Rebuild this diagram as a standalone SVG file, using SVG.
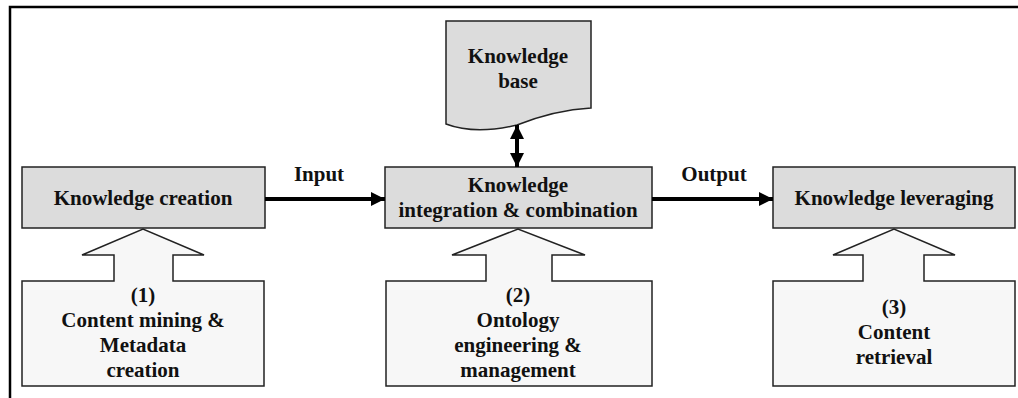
<svg xmlns="http://www.w3.org/2000/svg" width="1018" height="398" viewBox="0 0 1018 398">
<style>
  .t{fill:#111;text-anchor:middle}
  .main{fill:#dcdcdc;stroke:#222;stroke-width:1.5}
  .sub{fill:#f7f7f7;stroke:#222;stroke-width:1.5}
  .conn{stroke:#000;stroke-width:4;fill:none}
  .frame{stroke:#000;stroke-width:2.5;fill:none}
</style>
<defs>
  <marker id="ah" markerUnits="userSpaceOnUse" markerWidth="14" markerHeight="14" viewBox="0 0 14 14" refX="14" refY="7" orient="auto-start-reverse">
    <path d="M0,0 L14,7 L0,14 Z" fill="#000"/>
  </marker>
</defs>
<path class="frame" d="M10,398 V7 H1018"/>
<g id="kb">
  <path class="main" d="M446,21 H591 V108 Q555,110 517,125 Q475,135 446,124 Z"/>
  <text class="t" font-family="Liberation Serif" font-weight="bold" font-size="21" x="518" y="63">Knowledge</text>
  <text class="t" font-family="Liberation Serif" font-weight="bold" font-size="21" x="518" y="88">base</text>
</g>
<g id="creation">
  <rect class="main" x="22" y="167" width="243" height="61"/>
  <text class="t" font-family="Liberation Serif" font-weight="bold" font-size="21" x="143" y="205">Knowledge creation</text>
</g>
<g id="integration">
  <rect class="main" x="385" y="167" width="267" height="61"/>
  <text class="t" font-family="Liberation Serif" font-weight="bold" font-size="21" x="518" y="192">Knowledge</text>
  <text class="t" font-family="Liberation Serif" font-weight="bold" font-size="21" x="518" y="217">integration &amp; combination</text>
</g>
<g id="leveraging">
  <rect class="main" x="773" y="167" width="242" height="61"/>
  <text class="t" font-family="Liberation Serif" font-weight="bold" font-size="21" x="894" y="205">Knowledge leveraging</text>
</g>
<g id="mining">
  <path class="sub" d="M22,281 H114 V255 H82 L143,229 L204,255 H173 V281 H264 V386 H22 Z"/>
  <text class="t" font-family="Liberation Serif" font-weight="bold" font-size="21" x="143" y="302">(1)</text>
  <text class="t" font-family="Liberation Serif" font-weight="bold" font-size="21" x="143" y="327">Content mining &amp;</text>
  <text class="t" font-family="Liberation Serif" font-weight="bold" font-size="21" x="143" y="352">Metadata</text>
  <text class="t" font-family="Liberation Serif" font-weight="bold" font-size="21" x="143" y="377">creation</text>
</g>
<g id="ontology">
  <path class="sub" d="M386,281 H486 V255 H452 L518,229 L585,255 H552 V281 H652 V386 H386 Z"/>
  <text class="t" font-family="Liberation Serif" font-weight="bold" font-size="21" x="518" y="302">(2)</text>
  <text class="t" font-family="Liberation Serif" font-weight="bold" font-size="21" x="518" y="327">Ontology</text>
  <text class="t" font-family="Liberation Serif" font-weight="bold" font-size="21" x="518" y="352">engineering &amp;</text>
  <text class="t" font-family="Liberation Serif" font-weight="bold" font-size="21" x="518" y="377">management</text>
</g>
<g id="retrieval">
  <path class="sub" d="M773,281 H863 V255 H833 L894,229 L955,255 H924 V281 H1015 V386 H773 Z"/>
  <text class="t" font-family="Liberation Serif" font-weight="bold" font-size="21" x="894" y="314">(3)</text>
  <text class="t" font-family="Liberation Serif" font-weight="bold" font-size="21" x="894" y="339">Content</text>
  <text class="t" font-family="Liberation Serif" font-weight="bold" font-size="21" x="894" y="364">retrieval</text>
</g>
<g id="connectors">
  <line class="conn" x1="265" y1="199" x2="385" y2="199" marker-end="url(#ah)"/>
  <line class="conn" x1="652" y1="199" x2="773" y2="199" marker-end="url(#ah)"/>
  <line class="conn" stroke-width="3.5" x1="517" y1="125" x2="517" y2="167" marker-start="url(#ah)" marker-end="url(#ah)"/>
  <text class="t" font-family="Liberation Serif" font-weight="bold" font-size="21" x="319" y="181">Input</text>
  <text class="t" font-family="Liberation Serif" font-weight="bold" font-size="21" x="714" y="181">Output</text>
</g>
</svg>
